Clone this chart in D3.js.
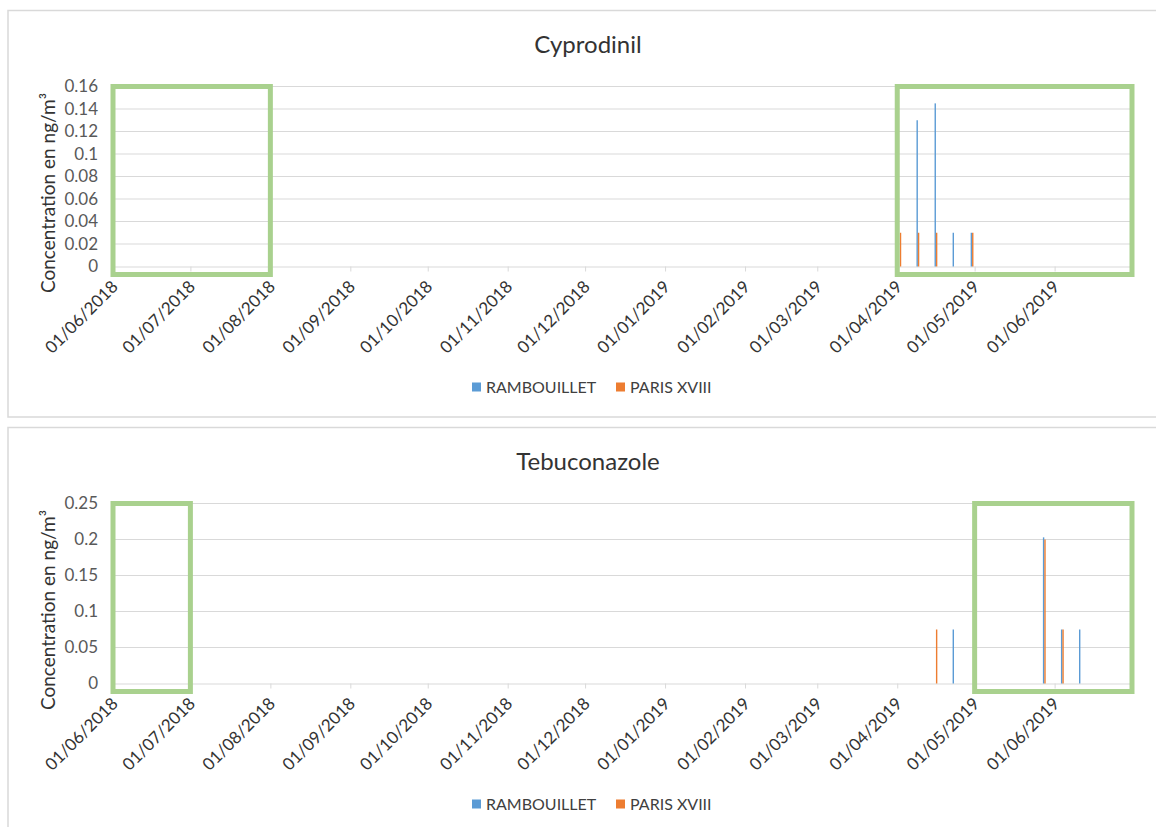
<!DOCTYPE html>
<html>
<head>
<meta charset="utf-8">
<script src="https://cdn.jsdelivr.net/npm/d3@7"></script>
<style>
  body { margin: 0; background: #fff; }
  svg { display: block; font-family: Lato, 'Open Sans', sans-serif; }
</style>
</head>
<body>
<script>
// values (weekly samples)
const seriesNames = ['RAMBOUILLET', 'PARIS XVIII']

const cyproDates = ['2019-04-02', '2019-04-09', '2019-04-16', '2019-04-23', '2019-04-30']
const cyproRambouillet = [null, 0.13, 0.145, 0.03, 0.03]
const cyproParis = [0.03, 0.03, 0.03, null, 0.03]
const cyproTicks = [0, 0.02, 0.04, 0.06, 0.08, 0.1, 0.12, 0.14, 0.16]
const cyproBoxes = [['2018-06-01', '2018-08-01'], ['2019-04-01', '2019-07-01']]

const tebuDates = ['2019-04-16', '2019-04-23', '2019-05-28', '2019-06-04', '2019-06-11']
const tebuRambouillet = [null, 0.075, 0.203, 0.075, 0.075]
const tebuParis = [0.075, null, 0.2, 0.075, null]
const tebuTicks = [0, 0.05, 0.1, 0.15, 0.2, 0.25]
const tebuBoxes = [['2018-06-01', '2018-07-01'], ['2019-05-01', '2019-07-01']]

const monthTicks = ['2018-06-01', '2018-07-01', '2018-08-01', '2018-09-01', '2018-10-01',
  '2018-11-01', '2018-12-01', '2019-01-01', '2019-02-01', '2019-03-01', '2019-04-01',
  '2019-05-01', '2019-06-01']
const xStart = '2018-06-01'
const xEnd = '2019-07-01'

const parse = d3.utcParse('%Y-%m-%d')
const fmt = d3.utcFormat('%d/%m/%Y')
const colors = d3.scaleOrdinal().domain(seriesNames).range(['#5b9bd5', '#ed7d31'])

const W = 1156
const H = 827
const svg = d3.select('body').append('svg').attr('width', W).attr('height', H)

// shared x scale (Excel date axis, day base unit)
const x = d3.scaleUtc().domain([parse(xStart), parse(xEnd)]).range([113, 1132])
const offset = d3.scaleBand().domain(seriesNames).range([-1.4, 1.4])

function drawPanel (top, title, dates, rambouillet, paris, ticks, boxes) {
  const g = svg.append('g').attr('transform', `translate(0,${top})`)

  g.append('rect')
    .attr('x', 8).attr('y', 0.5).attr('width', W + 10).attr('height', 406.5)
    .attr('fill', '#fff').attr('stroke', '#d9d9d9').attr('stroke-width', 1.5)

  g.append('text')
    .attr('x', 588).attr('y', 43)
    .attr('text-anchor', 'middle')
    .attr('font-size', 24).attr('fill', '#333')
    .text(title)

  const y = d3.scaleLinear().domain([0, d3.max(ticks)]).range([256.5, 76.5])

  // gridlines
  g.append('g').selectAll('line')
    .data(ticks.slice(1))
    .join('line')
    .attr('x1', x.range()[0]).attr('x2', x.range()[1])
    .attr('y1', d => y(d)).attr('y2', d => y(d))
    .attr('stroke', '#d9d9d9').attr('stroke-width', 1)

  // y axis labels
  const yAxis = g.append('g')
    .attr('transform', `translate(${x.range()[0]},0)`)
    .call(d3.axisLeft(y).tickValues(ticks).tickFormat(d3.format('~g')).tickSize(0).tickPadding(15))
  yAxis.select('.domain').remove()
  yAxis.selectAll('text').attr('font-size', 17).attr('fill', '#595959').attr('font-family', 'Lato, sans-serif')

  g.append('text')
    .attr('transform', `translate(55,${183}) rotate(-90)`)
    .attr('text-anchor', 'middle')
    .attr('font-size', 19).attr('fill', '#333')
    .text('Concentration en ng/m³')

  // x axis
  const xAxis = g.append('g')
    .attr('transform', `translate(0,${y(0)})`)
    .call(d3.axisBottom(x).tickValues(monthTicks.map(parse)).tickFormat(fmt).tickSize(5).tickPadding(4))
  xAxis.select('.domain').attr('stroke', '#d9d9d9')
  xAxis.selectAll('.tick line').attr('stroke', '#d9d9d9')
  xAxis.selectAll('text')
    .attr('font-size', 17).attr('fill', '#333').attr('font-family', 'Lato, sans-serif')
    .attr('text-anchor', 'end')
    .attr('dy', null)
    .attr('transform', 'translate(-1,15) rotate(-45)')

  // bars
  const rows = []
  dates.forEach((d, i) => {
    rows.push({ date: parse(d), series: seriesNames[0], value: rambouillet[i] })
    rows.push({ date: parse(d), series: seriesNames[1], value: paris[i] })
  })
  g.append('g').selectAll('rect')
    .data(rows.filter(r => r.value != null))
    .join('rect')
    .attr('x', d => x(d.date) + offset(d.series))
    .attr('width', offset.bandwidth())
    .attr('y', d => y(d.value))
    .attr('height', d => y(0) - y(d.value))
    .attr('fill', d => colors(d.series))

  // green highlight boxes
  g.append('g').selectAll('rect')
    .data(boxes)
    .join('rect')
    .attr('x', d => x(parse(d[0])))
    .attr('width', d => x(parse(d[1])) - x(parse(d[0])))
    .attr('y', y.range()[1])
    .attr('height', y.range()[0] - y.range()[1] + 8)
    .attr('fill', 'none')
    .attr('stroke', '#a9d18e').attr('stroke-width', 5)

  // legend
  const leg = g.append('g').attr('transform', 'translate(0,377)')
  const pos = [472, 616]
  seriesNames.forEach((s, i) => {
    leg.append('rect')
      .attr('x', pos[i]).attr('y', -4.5).attr('width', 9).attr('height', 9)
      .attr('fill', colors(s))
    leg.append('text')
      .attr('x', pos[i] + 14).attr('y', 6)
      .attr('font-size', 16).attr('fill', '#404040')
      .text(s)
  })
}

drawPanel(10, 'Cyprodinil', cyproDates, cyproRambouillet, cyproParis, cyproTicks, cyproBoxes)
drawPanel(427, 'Tebuconazole', tebuDates, tebuRambouillet, tebuParis, tebuTicks, tebuBoxes)
</script>
</body>
</html>
